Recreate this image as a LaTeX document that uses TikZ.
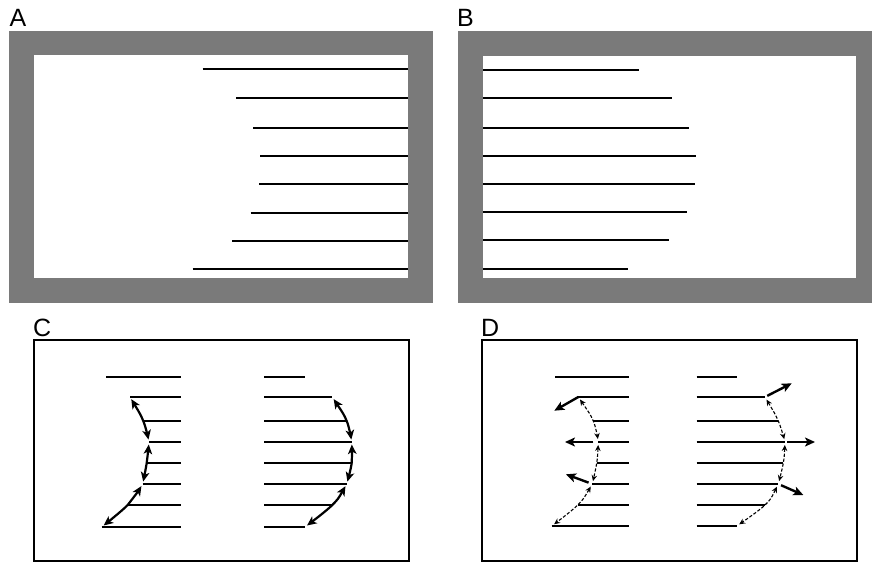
\documentclass[tikz,border=0pt]{standalone}
\usepackage{fontspec}
\setmainfont{Liberation Sans}
\usetikzlibrary{arrows.meta}
\definecolor{framegray}{RGB}{122,122,122}
\begin{document}
\begin{tikzpicture}[x=1pt,y=-1pt,
  hline/.style={line width=2pt},
  panellabel/.style={anchor=base west,inner sep=0pt,font=\fontsize{25}{25}\selectfont},
  boxframe/.style={draw,line width=2pt},
  grayframe/.style={fill=framegray},
  innerwhite/.style={fill=white},
  solidarr/.style={line width=2.2pt,line join=round,
    {Stealth[length=9.5pt,width=8.5pt,inset=2.5pt]}-{Stealth[length=9.5pt,width=8.5pt,inset=2.5pt]},
    shorten <=2.5pt,shorten >=2.5pt},
  dasharr/.style={line width=1.1pt,line join=round,dash pattern=on 3.2pt off 1.8pt,
    {Stealth[length=6pt,width=5.5pt,inset=2pt]}-{Stealth[length=6pt,width=5.5pt,inset=2pt]},
    shorten <=3pt,shorten >=3pt},
  pusharr/.style={line width=2.4pt,-{Stealth[length=10pt,width=9pt,inset=2.5pt]}}
]
\useasboundingbox (0,0) rectangle (872,563);

% ---------- Panel A ----------
\node[panellabel] (labA) at (9.5,26) {A};
\fill[grayframe] (9,30.5) rectangle (433,303);
\fill[innerwhite] (34,54.5) rectangle (407.5,278);
\foreach \i/\y/\xl in {1/69/202.7,2/98/236,3/128/253.3,4/156/260,5/184/259.3,6/213/250.7,7/241/232.3,8/269/192.7}{
  \coordinate (aL\i) at (\xl,\y);
  \coordinate (aR\i) at (407.5,\y);
  \draw[hline] (aL\i) -- (aR\i);
}

% ---------- Panel B ----------
\node[panellabel] (labB) at (457,26) {B};
\fill[grayframe] (458,30.5) rectangle (872,303);
\fill[innerwhite] (483,56) rectangle (856,278.3);
\foreach \i/\y/\xr in {1/70/639.3,2/98/671.7,3/128/689,4/156/695.7,5/184/695,6/212/686.7,7/240/668.7,8/269/628.3}{
  \coordinate (bL\i) at (483,\y);
  \coordinate (bR\i) at (\xr,\y);
  \draw[hline] (bL\i) -- (bR\i);
}

% ---------- Panel C ----------
\node[panellabel] (labC) at (33,336) {C};
\draw[boxframe] (34,340) rectangle (408.5,561);
\foreach \i/\y/\xl/\xr in {1/377/106/305,2/397/130/332.3,3/421/143.3/346.7,4/442/149/351.7,5/463/146.7/351.7,6/484/142.7/346.7,7/505/127.7/332.3,8/527/101.7/305}{
  \coordinate (cL\i) at (\xl,\y);
  \coordinate (cM\i) at (181,\y);
  \coordinate (cN\i) at (264.3,\y);
  \coordinate (cR\i) at (\xr,\y);
  \draw[hline] (cL\i) -- (cM\i);
  \draw[hline] (cN\i) -- (cR\i);
}
\draw[solidarr] plot[smooth,tension=0.5] coordinates {(cL2) (cL3) (cL4)};
\draw[solidarr] plot[smooth,tension=0.5] coordinates {(cL4) (cL5) (cL6)};
\draw[solidarr] plot[smooth,tension=0.5] coordinates {(cL6) (cL7) (cL8)};
\draw[solidarr] plot[smooth,tension=0.5] coordinates {(cR2) (cR3) (cR4)};
\draw[solidarr] plot[smooth,tension=0.5] coordinates {(cR4) (cR5) (cR6)};
\draw[solidarr] plot[smooth,tension=0.5] coordinates {(cR6) (cR7) (cR8)};

% ---------- Panel D ----------
\node[panellabel] (labD) at (481,336) {D};
\draw[boxframe] (482.3,340) rectangle (856.5,561);
\foreach \i/\y/\xl/\xr in {1/377/555/736.7,2/397/578.3/765,3/421/593.3/778.3,4/442/598.3/785,5/463/596.7/783.3,6/484/592.3/778.3,7/505/577.7/765,8/526/551.7/736.7}{
  \coordinate (dL\i) at (\xl,\y);
  \coordinate (dM\i) at (629.3,\y);
  \coordinate (dN\i) at (696.7,\y);
  \coordinate (dR\i) at (\xr,\y);
  \draw[hline] (dL\i) -- (dM\i);
  \draw[hline] (dN\i) -- (dR\i);
}
\draw[dasharr] plot[smooth,tension=0.5] coordinates {(dL2) (dL3) (dL4)};
\draw[dasharr] plot[smooth,tension=0.5] coordinates {(dL4) (dL5) (dL6)};
\draw[dasharr] plot[smooth,tension=0.5] coordinates {(dL6) (dL7) (dL8)};
\draw[dasharr] plot[smooth,tension=0.5] coordinates {(dR2) (dR3) (dR4)};
\draw[dasharr] plot[smooth,tension=0.5] coordinates {(dR4) (dR5) (dR6)};
\draw[dasharr] plot[smooth,tension=0.5] coordinates {(dR6) (dR7) (dR8)};

\coordinate (pl1) at (554.3,410.7);
\coordinate (pl2) at (565,442);
\coordinate (pl3) at (566,474.3);
\coordinate (pr1) at (791.7,383.3);
\coordinate (pr2) at (815,442);
\coordinate (pr3) at (803.3,495);
\draw[pusharr] (dL2) -- (pl1);
\draw[pusharr,shorten <=5pt] (dL4) -- (pl2);
\draw[pusharr,shorten <=4pt] (dL6) -- (pl3);
\draw[pusharr,shorten <=2.5pt] (dR2) -- (pr1);
\draw[pusharr,shorten <=2pt] (dR4) -- (pr2);
\draw[pusharr,shorten <=3pt] (dR6) -- (pr3);
\end{tikzpicture}
\end{document}
